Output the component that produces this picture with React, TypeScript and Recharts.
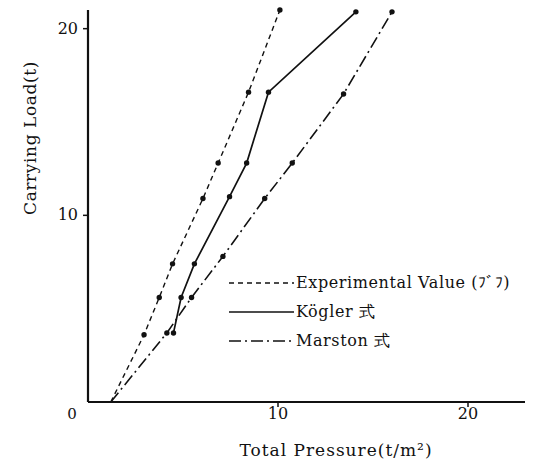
import React from 'react';
import { LineChart, Line, XAxis, YAxis } from 'recharts';

// Carrying load (t)
const experimentalLoad = [0, 3.6, 5.6, 7.4, 10.9, 12.8, 16.6, 21.0];
const experimentalPressure = [1.2, 2.95, 3.75, 4.45, 6.05, 6.85, 8.45, 10.1];

const koglerLoad = [3.7, 5.6, 7.4, 11.0, 12.8, 16.6, 20.9];
const koglerPressure = [4.5, 4.9, 5.6, 7.45, 8.35, 9.5, 14.1];

const marstonLoad = [0, 3.7, 5.6, 7.8, 10.9, 12.8, 16.5, 20.9];
const marstonPressure = [1.2, 4.15, 5.45, 7.1, 9.3, 10.75, 13.45, 16.0];

const xTicks = [10, 20];
const yTicks = [0, 10, 20];

const FONT = 'DejaVu Serif, Liberation Serif, serif';

const toPoints = (xs: number[], ys: number[]) => xs.map((x, i) => ({ x, y: ys[i] }));

const experimental = toPoints(experimentalPressure, experimentalLoad);
const kogler = toPoints(koglerPressure, koglerLoad);
const marston = toPoints(marstonPressure, marstonLoad);

const legendItems = [
  { label: 'Experimental Value (ﾌﾞﾌ)', dash: '5 4' },
  { label: 'Kögler 式', dash: undefined },
  { label: 'Marston 式', dash: '12 4 2 4' },
];

// dots everywhere except where the lines start on the x axis
const Dot = (props: any) => {
  const { cx, cy, payload } = props;
  if (payload.y === 0) return null;
  return <circle cx={cx} cy={cy} r={2.7} fill="#111" />;
};

const YTick = (props: any) => {
  const { x, y, payload } = props;
  if (payload.value === 0) {
    return (
      <text x={x - 8} y={y + 17} textAnchor="middle" fontFamily={FONT} fontSize={15} fill="#111">
        0
      </text>
    );
  }
  return (
    <g>
      <line x1={x + 3} x2={x + 8} y1={y} y2={y} stroke="#111" strokeWidth={1.5} />
      <text x={x - 2} y={y + 5} textAnchor="end" fontFamily={FONT} fontSize={16} fill="#111">
        {payload.value}
      </text>
    </g>
  );
};

const XTick = (props: any) => {
  const { x, y, payload } = props;
  return (
    <text x={x} y={y + 10} textAnchor="middle" fontFamily={FONT} fontSize={16} fill="#111">
      {payload.value}
    </text>
  );
};

// legend drawn as an overlay so it does not take room from the plot
const ChartLegend = () => (
  <div
    style={{
      position: 'absolute',
      left: 228,
      top: 268,
      fontFamily: FONT,
      fontSize: 16,
      letterSpacing: 0.6,
      color: '#111',
    }}
  >
    {legendItems.map((item) => (
      <div key={item.label} style={{ display: 'flex', alignItems: 'center', height: 29 }}>
        <svg width={66} height={10} style={{ display: 'block' }}>
          <line x1={1} x2={66} y1={5} y2={5} stroke="#111" strokeWidth={1.6} strokeDasharray={item.dash} />
        </svg>
        <span style={{ marginLeft: 2, lineHeight: '20px' }}>{item.label}</span>
      </div>
    ))}
  </div>
);

export default function App() {
  return (
    <div style={{ position: 'absolute', left: 0, top: 0, width: 558, height: 468, background: '#fff' }}>
      <LineChart width={558} height={468} margin={{ top: 10, right: 33, bottom: 0, left: 0 }}>
        <XAxis
          type="number"
          dataKey="x"
          domain={[0, 23]}
          ticks={xTicks}
          tick={<XTick />}
          tickSize={5}
          tickLine={{ stroke: '#111', strokeWidth: 1.5 }}
          axisLine={{ stroke: '#111', strokeWidth: 2.2 }}
          height={66}
          label={{
            value: 'Total Pressure(t/m²)',
            content: () => (
              <text x={336} y={456} textAnchor="middle" fontFamily={FONT} letterSpacing={1} fontSize={17} fill="#111">
                Total Pressure(t/m²)
              </text>
            ),
          }}
        />
        <YAxis
          type="number"
          dataKey="y"
          domain={[0, 21]}
          ticks={yTicks}
          tick={<YTick />}
          tickLine={false}
          axisLine={{ stroke: '#111', strokeWidth: 2.2 }}
          width={88}
          label={{
            value: 'Carrying Load(t)',
            content: () => (
              <text
                x={36}
                y={138}
                textAnchor="middle"
                fontFamily={FONT}
                letterSpacing={0.6}
                fontSize={17}
                fill="#111"
                transform="rotate(-90 36 138)"
              >
                Carrying Load(t)
              </text>
            ),
          }}
        />
        <Line
          data={experimental}
          dataKey="y"
          name="Experimental Value"
          type="linear"
          stroke="#111"
          strokeWidth={1.4}
          strokeDasharray="5 4"
          dot={<Dot />}
          activeDot={false}
          isAnimationActive={false}
        />
        <Line
          data={kogler}
          dataKey="y"
          name="Kögler"
          type="linear"
          stroke="#111"
          strokeWidth={1.7}
          dot={<Dot />}
          activeDot={false}
          isAnimationActive={false}
        />
        <Line
          data={marston}
          dataKey="y"
          name="Marston"
          type="linear"
          stroke="#111"
          strokeWidth={1.6}
          strokeDasharray="12 4 2 4"
          dot={<Dot />}
          activeDot={false}
          isAnimationActive={false}
        />
      </LineChart>
      <ChartLegend />
    </div>
  );
}
